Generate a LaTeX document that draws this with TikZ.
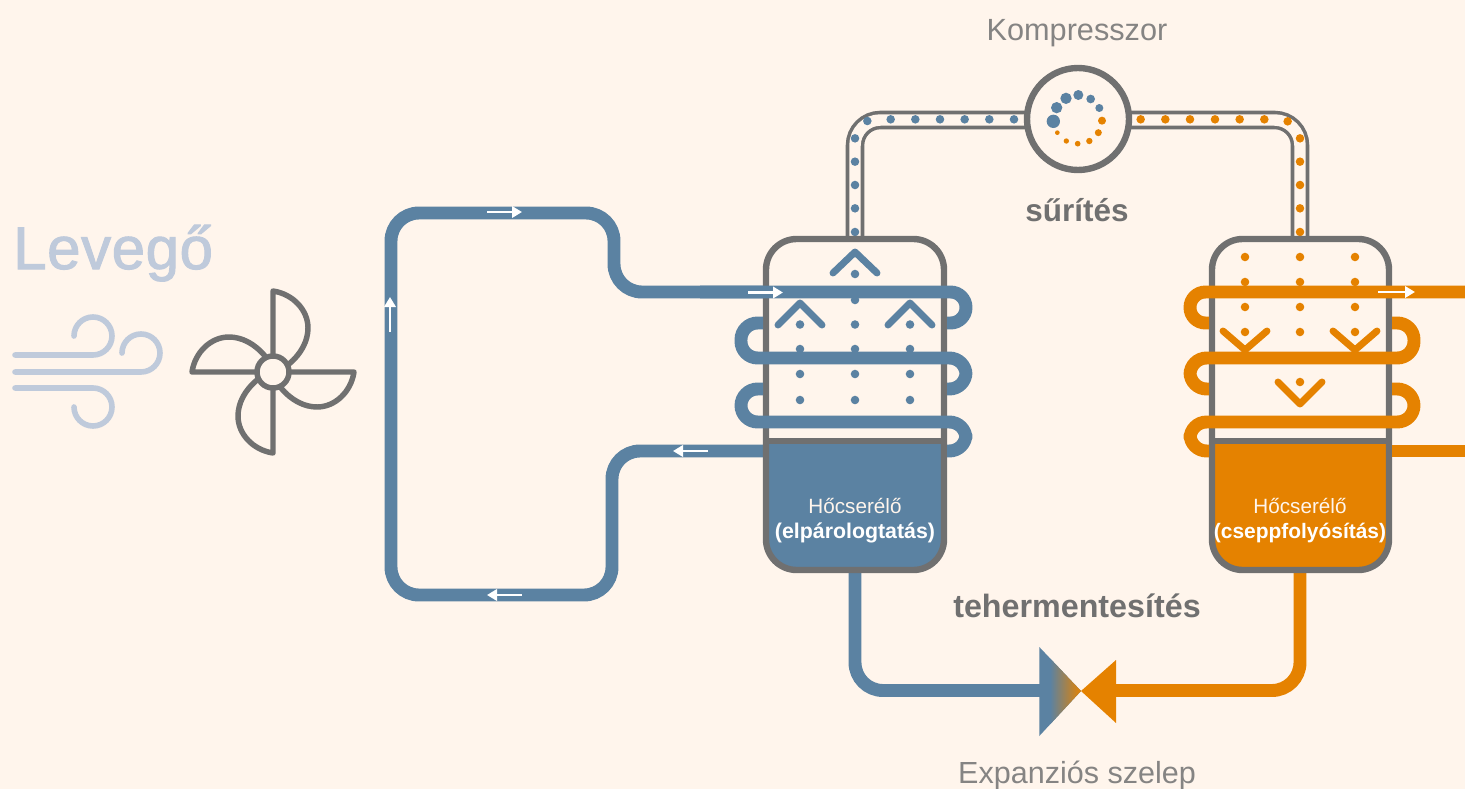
\documentclass[tikz,border=0pt]{standalone}
\usepackage{fontspec}
\setmainfont{Liberation Sans}
\newfontfamily\levfont[FakeBold=1.7,LetterSpace=1]{Liberation Sans}
\usetikzlibrary{arrows.meta}
\definecolor{bgc}{HTML}{FFF5EC}
\definecolor{blu}{HTML}{5B82A2}
\definecolor{ora}{HTML}{E58200}
\definecolor{gry}{HTML}{707070}
\definecolor{wnd}{HTML}{BFCADB}
\tikzset{
  pipeline/.style={line width=9.7pt},
  wall/.style={draw=gry,line width=4.8pt},
  chev/.style={line width=5.2pt,line cap=round,line join=round},
  windline/.style={draw=wnd,line width=4.2pt,line cap=round},
  fanline/.style={draw=gry,line width=4.1pt,line join=round,line cap=round},
  whitearrow/.style={draw=white,line width=2pt,-{Triangle[length=7.5pt,width=8.5pt]}},
  lbl/.style={inner sep=0pt,anchor=base,text=gry},
}
\begin{document}
\begin{tikzpicture}[x=0.75pt,y=-0.75pt]
\fill[bgc] (0,0) rectangle (1465,789);
\useasboundingbox (0,0) rectangle (1465,789);
% texts
\node[inner sep=0pt,anchor=base west,text=wnd,font=\levfont\fontsize{45}{45}\selectfont] (levego) at (13,269) {Levegő};
\node[lbl,font=\fontsize{23}{23}\selectfont,text=gry!85!bgc] (komp) at (1077,40) {Kompresszor};
\node[lbl,font=\fontsize{23.6}{23.6}\selectfont\bfseries] (suri) at (1077,221) {sűrítés};
\node[lbl,font=\fontsize{24.2}{24.2}\selectfont\bfseries] (teher) at (1077,617) {tehermentesítés};
\node[lbl,font=\fontsize{22.9}{22.9}\selectfont,text=gry!85!bgc] (exp) at (1077,783) {Expanziós szelep};
% wind
\draw[windline] (15,355) -- (93,355) arc[start angle=-90,end angle=180,radius=14.25pt];
\draw[windline] (15,372) -- (141,372) arc[start angle=-90,end angle=180,radius=14.25pt];
\draw[windline] (15,388) -- (93,388) arc[start angle=90,end angle=-180,radius=14.25pt];
% fan
\foreach \a in {0,90,180,270}{
  \begin{scope}[shift={(273,372)},rotate=\a]
    \draw[fanline] (0,-16) -- (0,-81) .. controls (20,-78) and (35,-62) .. (35,-44) .. controls (35,-31) and (28,-18) .. (16,-8);
  \end{scope}
}
\draw[fanline,fill=bgc] (273,372) circle[radius=12pt];
% outer loop
\draw[pipeline,draw=blu,rounded corners=21pt] (766,292) -- (614,292) -- (614,213) -- (391,213) -- (391,595) -- (612,595) -- (612,451) -- (766,451);
% gray double pipes
\draw[line width=13.9pt,draw=gry,rounded corners=19pt] (855,239) -- (855,120) -- (1035,120);
\draw[line width=13.9pt,draw=gry,rounded corners=19pt] (1300,239) -- (1300,120) -- (1120,120);
\draw[line width=8.6pt,draw=bgc,rounded corners=19pt] (855,237) -- (855,120) -- (1035,120);
\draw[line width=8.6pt,draw=bgc,rounded corners=19pt] (1300,237) -- (1300,120) -- (1120,120);
% pipe dots
\foreach \zx/\zy in {112/183,182/178,256/178,330/178,404/178,478/178,552/178,75/235,75/305,75/375,75/445,75/516}
  \fill[blu] ({830+\zx/3},{60+\zy/3}) circle[radius=3.2pt];
\foreach \zx/\zy in {932/178,1006/178,1080/178,1155/178,1229/178,1303/178,1373/184,1410/235,1410/305,1410/375,1410/445,1410/516}
  \fill[ora] ({830+\zx/3},{60+\zy/3}) circle[radius=3.2pt];
% compressor
\node[circle,draw=gry,fill=bgc,line width=4.8pt,minimum size=76.5pt,inner sep=0pt] (compressor) at (1078,119) {};
\foreach \zx/\zy/\r in {670/184/20,680/143/17,708/115/17,745/105/15,782/117/13,808/144/12}
  \fill[blu] ({830+\zx/3},{60+\zy/3}) circle[radius=\r*0.25pt];
\foreach \zx/\zy/\r in {816/182/12,805/218/10.5,778/243/9.5,743/251/8.5,709/243/8,682/218/7}
  \fill[ora] ({830+\zx/3},{60+\zy/3}) circle[radius=\r*0.25pt];
% bottom pipes + valve
\draw[pipeline,draw=blu,rounded corners=21pt] (855,570) -- (855,690.5) -- (1040,690.5);
\draw[pipeline,draw=ora,rounded corners=21pt] (1300,570) -- (1300,690.5) -- (1115,690.5);
\fill[blu] (1039.3,647) -- (1039.3,736) -- (1081,691) -- cycle;
\begin{scope}
  \clip (1039.3,647) -- (1039.3,736) -- (1081,691) -- cycle;
  \shade[left color=blu,right color=ora] (1050,640) rectangle (1081,740);
\end{scope}
\fill[ora] (1116,660) -- (1116,723) -- (1081,691) -- cycle;
% blue tank contents
\foreach \x in {800,855,910}
  \foreach \y in {324.5,349,374,400}
    \fill[blu] (\x,\y) circle[radius=3.2pt];
\fill[blu] (855,274) circle[radius=3.2pt] (855,300) circle[radius=3.2pt];
\draw[chev,draw=blu] (833,273) -- (855,252) -- (877,273);
\draw[chev,draw=blu] (778,325) -- (800,303) -- (822,325);
\draw[chev,draw=blu] (888,325) -- (910,303) -- (932,325);
\begin{scope}
  \clip[rounded corners=23pt] (766,239) rectangle (944,570);
  \fill[blu] (766,441) rectangle (944,570);
\end{scope}
\draw[wall,rounded corners=23pt] (766,239) rectangle (944,570);
\draw[wall] (766,441) -- (944,441);
\node[lbl,text=bgc,font=\fontsize{15.5}{15.5}\selectfont] (h1) at (855,513) {Hőcserélő};
\node[lbl,text=white,font=\fontsize{16}{16}\selectfont\bfseries] (e1) at (855,538) {(elpárologtatás)};
% blue coil
\draw[pipeline,draw=blu,rounded corners=11.6pt] (700,292) -- (966,292) -- (966,323) -- (947,323);
\draw[pipeline,draw=blu,rounded corners=12.5pt] (763,323) -- (741,323) -- (741,358) -- (966,358) -- (966,389) -- (947,389);
\draw[pipeline,draw=blu,rounded corners=12.5pt] (763,389) -- (741,389) -- (741,422) -- (966,422) -- (966,451) -- (947,451);
% orange tank contents
\foreach \x in {1245,1300,1355}
  \foreach \y in {257,282,307,332}
    \fill[ora] (\x,\y) circle[radius=3.2pt];
\fill[ora] (1300,382) circle[radius=3.2pt];
\draw[chev,draw=ora] (1223,331) -- (1245,350) -- (1267,331);
\draw[chev,draw=ora] (1333,331) -- (1355,350) -- (1377,331);
\draw[chev,draw=ora] (1278,382) -- (1300,404) -- (1322,382);
\begin{scope}
  \clip[rounded corners=23pt] (1212,239) rectangle (1389,570);
  \fill[ora] (1212,441) rectangle (1389,570);
\end{scope}
\draw[wall,rounded corners=23pt] (1212,239) rectangle (1389,570);
\draw[wall] (1212,441) -- (1389,441);
\node[lbl,text=bgc,font=\fontsize{15.5}{15.5}\selectfont] (h2) at (1300,513) {Hőcserélő};
\node[lbl,text=white,font=\fontsize{15.7}{15.7}\selectfont\bfseries] (e2) at (1300,538) {(cseppfolyósítás)};
% orange coil
\draw[pipeline,draw=ora,rounded corners=11.6pt] (1465,292) -- (1190,292) -- (1190,323) -- (1209,323);
\draw[pipeline,draw=ora,rounded corners=12.5pt] (1392,323) -- (1414,323) -- (1414,358) -- (1190,358) -- (1190,389) -- (1209,389);
\draw[pipeline,draw=ora,rounded corners=12.5pt] (1392,389) -- (1414,389) -- (1414,422) -- (1190,422) -- (1190,451) -- (1209,451);
\draw[pipeline,draw=ora] (1392,451) -- (1465,451);
% flow arrows
\coordinate (a1s) at (487,212); \coordinate (a1e) at (522,212);
\coordinate (a2s) at (748,292.5); \coordinate (a2e) at (783,292.5);
\coordinate (a3s) at (708,451); \coordinate (a3e) at (673,451);
\coordinate (a4s) at (522,595); \coordinate (a4e) at (487,595);
\coordinate (a5s) at (390,332); \coordinate (a5e) at (390,297);
\coordinate (a6s) at (1378,292); \coordinate (a6e) at (1415,292);
\foreach \n in {1,...,6} \draw[whitearrow] (a\n s) -- (a\n e);
\end{tikzpicture}
\end{document}
